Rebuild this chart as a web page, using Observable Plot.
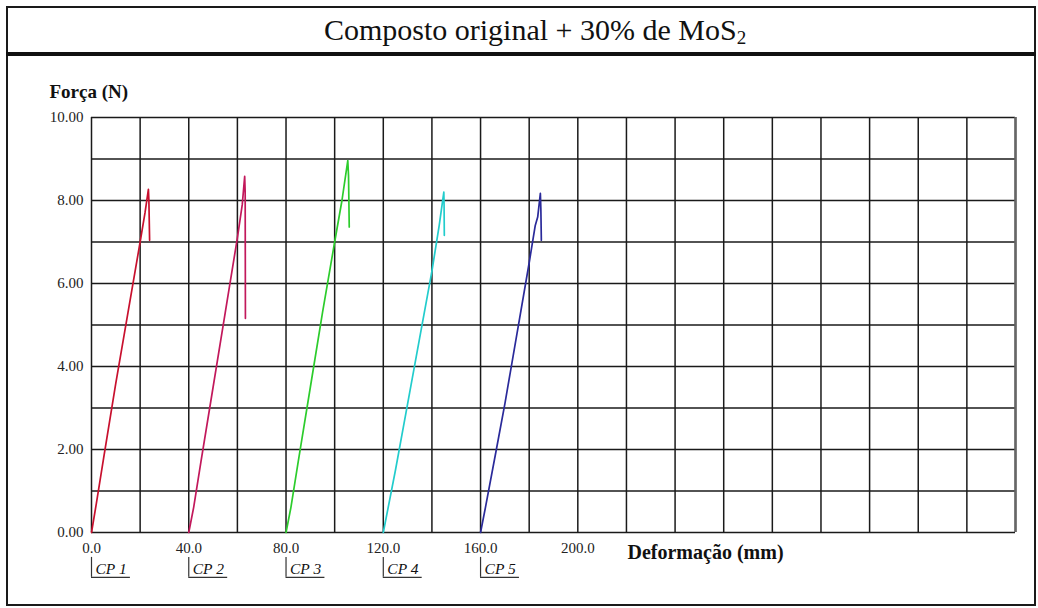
<!DOCTYPE html>
<html>
<head>
<meta charset="utf-8">
<script src="https://cdn.jsdelivr.net/npm/d3@7"></script>
<script src="https://cdn.jsdelivr.net/npm/@observablehq/plot@0.6"></script>
<style>
  html, body { margin: 0; padding: 0; background: #fff; }
  body { width: 1038px; height: 608px; position: relative; overflow: hidden; font-family: 'Liberation Serif', serif; }
  #frame { position: absolute; left: 6px; top: 6px; width: 1030px; height: 600px; box-sizing: border-box; border: 2px solid #1a1a1a; }
  #title { position: absolute; left: 6px; top: 8px; width: 1030px; height: 44px; line-height: 44px; text-align: center; font-family: 'Liberation Serif', serif; font-size: 30px; color: #111; padding-left: 28px; box-sizing: border-box; }
  #title sub { font-size: 19px; vertical-align: -4px; line-height: 0; }
  #rule { position: absolute; left: 6px; top: 52px; width: 1030px; height: 4px; background: #111; }
  #chart { position: absolute; left: 0; top: 56px; }
</style>
</head>
<body>
<div id="frame"></div>
<div id="title">Composto original + 30% de MoS<sub>2</sub></div>
<div id="rule"></div>
<div id="chart"></div>
<script>
// ---- data ----
const cpNames  = ["CP 1", "CP 2", "CP 3", "CP 4", "CP 5"];
const cpStart  = [0, 40, 80, 120, 160];
const cpColors = ["#c8102e", "#c2185b", "#2ccc2c", "#22cccc", "#2a2a9a"];

const cp1X = [0, 2, 5, 10, 15, 20, 22, 23.4, 23.6, 23.9];
const cp1F = [0, 0.7, 1.8, 3.6, 5.3, 7.0, 7.7, 8.27, 8.0, 7.04];
const cp2X = [40, 42, 45, 50, 55, 60, 62, 63.0, 63.2, 63.3];
const cp2F = [0, 0.6, 1.7, 3.5, 5.3, 7.1, 7.9, 8.58, 8.2, 5.16];
const cp3X = [80, 82, 85, 90, 95, 100, 103, 105.4, 105.7, 106.0];
const cp3F = [0, 0.6, 1.7, 3.5, 5.3, 7.0, 8.0, 8.96, 8.6, 7.36];
const cp4X = [120, 122, 125, 130, 135, 140, 143, 144.9, 145.0, 145.1];
const cp4F = [0, 0.6, 1.5, 3.1, 4.7, 6.3, 7.4, 8.2, 7.9, 7.16];
const cp5X = [160, 162, 166.5, 170, 175, 180, 182.5, 183.5, 184.6, 184.8, 185.0];
const cp5F = [0, 0.6, 2.0, 3.1, 4.8, 6.5, 7.4, 7.6, 8.17, 7.8, 7.04];

const xTickLabels = [0, 40, 80, 120, 160, 200];
const yTickLabels = [0, 2, 4, 6, 8, 10];
const xGrid = [0,20,40,60,80,100,120,140,160,180,200,220,240,260,280,300,320,340,360,380];
const yGrid = [0,1,2,3,4,5,6,7,8,9,10];

const xs = [cp1X, cp2X, cp3X, cp4X, cp5X];
const fs = [cp1F, cp2F, cp3F, cp4F, cp5F];
const rows = [];
cpNames.forEach((name, i) => xs[i].forEach((x, j) => rows.push({cp: name, x, f: fs[i][j]})));
const labels = cpNames.map((name, i) => ({cp: name, start: cpStart[i]}));

// bracket position below the axis (in y units)
const brTop = -0.6, brBottom = -1.08, brLen = 16;
const serif = "'Liberation Serif', serif";

const chart = Plot.plot({
  width: 1038,
  height: 548,
  marginLeft: 91,
  marginRight: 23,
  marginTop: 61,
  marginBottom: 72,
  style: {fontFamily: serif, fontSize: "15px", color: "#222", background: "transparent", overflow: "visible"},
  x: {domain: [0, 380]},
  y: {domain: [0, 10]},
  color: {domain: cpNames, range: cpColors},
  marks: [
    Plot.ruleX(xGrid, {stroke: "#1a1a1a", strokeWidth: 1.5}),
    Plot.ruleY(yGrid, {stroke: "#1a1a1a", strokeWidth: 1.5}),
    Plot.ruleX([380], {stroke: "#666", strokeWidth: 2.5}),
    Plot.axisX(xTickLabels, {tickSize: 0, tickPadding: 10, tickFormat: d3.format(".1f"), fontSize: 15, fontFamily: serif, fill: "#222", label: null}),
    Plot.axisY(yTickLabels, {tickSize: 0, tickPadding: 8, tickFormat: d3.format(".2f"), fontSize: 15, fontFamily: serif, fill: "#222", label: null}),
    Plot.line(rows, {x: "x", y: "f", z: "cp", stroke: "cp", strokeWidth: 1.7}),
    Plot.ruleX(labels, {x: "start", y1: brTop, y2: brBottom, stroke: "#333", strokeWidth: 1.2}),
    Plot.ruleY(labels, {y: brBottom, x1: "start", x2: d => d.start + brLen, stroke: "#333", strokeWidth: 1.2}),
    Plot.text(labels, {x: "start", y: brBottom, text: "cp", dx: 4, dy: -3, textAnchor: "start", lineAnchor: "bottom", fontStyle: "italic", fontSize: 15.5, fontFamily: serif, fill: "#111"}),
    Plot.text(["Força (N)"], {frameAnchor: "top-left", dx: -42, dy: -20, textAnchor: "start", lineAnchor: "bottom", fontWeight: "bold", fontSize: 19, fontFamily: serif, fill: "#111"}),
    Plot.text(["Deformação (mm)"], {frameAnchor: "bottom-left", dx: 536, dy: 26, textAnchor: "start", lineAnchor: "bottom", fontWeight: "bold", fontSize: 20, fontFamily: serif, fill: "#111"})
  ]
});
document.getElementById("chart").appendChild(chart);
</script>
</body>
</html>
